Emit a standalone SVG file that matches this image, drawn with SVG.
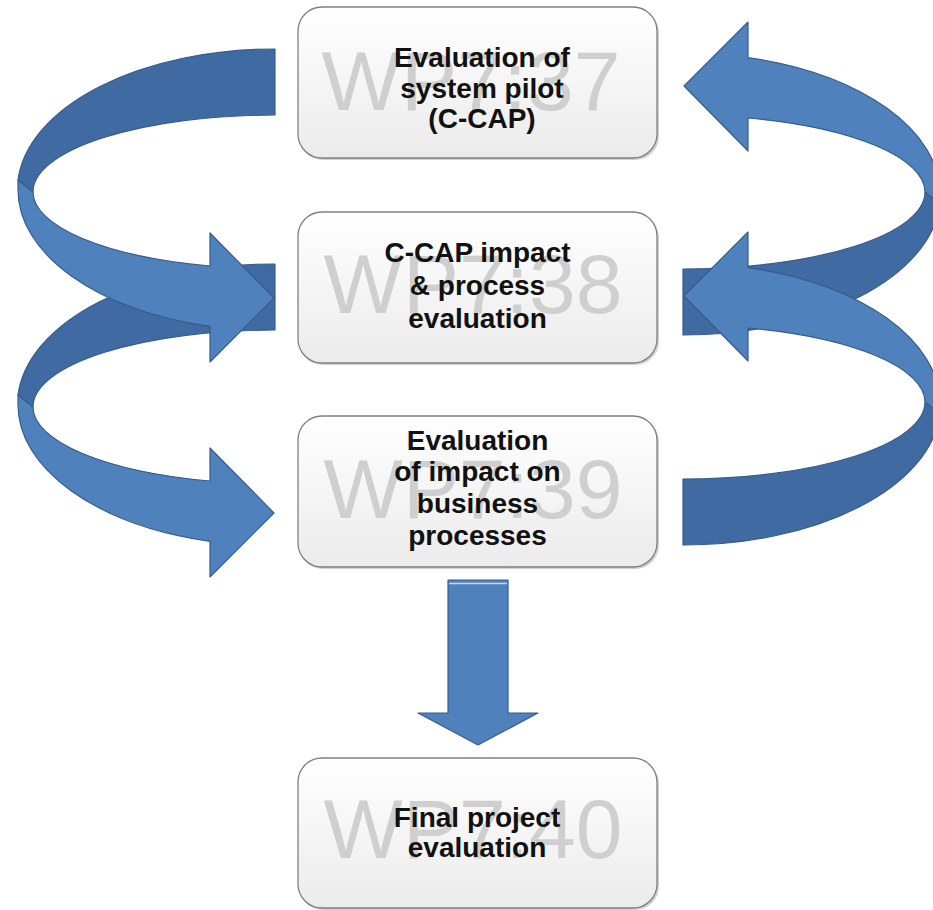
<svg xmlns="http://www.w3.org/2000/svg" width="933" height="910" viewBox="0 0 933 910">
<defs>
<style>
.box{fill:url(#bg);stroke:#808080;stroke-width:1.3}
.shadow{fill:#9a9a9a;opacity:0.45}
.wm{font-family:"Liberation Sans",Arial,sans-serif;font-size:84px;fill:#cfcfcf;text-anchor:middle}
.lbl{font-family:"Liberation Sans",Arial,sans-serif;font-size:28px;font-weight:bold;fill:#111;text-anchor:middle}
.back{fill:#3f6aa2;stroke:#375d8c;stroke-width:1.2;stroke-linejoin:round}
.front{fill:#4f81bd;stroke:#385d8a;stroke-width:1.2;stroke-linejoin:round}
</style>
<linearGradient id="bg" x1="0" y1="0" x2="0" y2="1">
<stop offset="0" stop-color="#ffffff"/>
<stop offset="1" stop-color="#ebebeb"/>
</linearGradient>
<g id="curve">
<path class="back" d="M275,49 A257,141 0 0 0 18,180 L33,192 A242,77 0 0 1 275,115 Z"/>
<path class="front" d="M18,180 L18,190 A257,141 0 0 0 210,326.4 L210,362 L274,298 L210,233 L210,266 A242,77 0 0 1 33,192 Z"/>
</g>
</defs>

<g id="connectors">
<use href="#curve" transform="translate(0,215)"/>
<use href="#curve"/>
<use href="#curve" transform="rotate(180 479 192)"/>
<use href="#curve" transform="translate(0,210) rotate(180 479 192)"/>
<g id="down-arrow">
<polygon class="front" points="448,580 508,580 508,713 538,713 478,745 418,713 448,713"/>
<line x1="449" y1="583.5" x2="507" y2="583.5" stroke="#c9d7ea" stroke-width="1.5"/>
</g>
</g>

<g id="node-wp737">
<rect class="shadow" x="299" y="9" width="360" height="151" rx="24"/>
<rect class="box" x="298" y="7" width="359" height="151" rx="24"/>
<text class="wm" x="471" y="110">WP7:37</text>
<text class="lbl" x="482" y="67">Evaluation of</text>
<text class="lbl" x="482" y="97.5">system pilot</text>
<text class="lbl" x="482" y="128">(C-CAP)</text>
</g>

<g id="node-wp738">
<rect class="shadow" x="299" y="214" width="360" height="151" rx="24"/>
<rect class="box" x="298" y="212" width="359" height="151" rx="24"/>
<text class="wm" x="473" y="313">WP7:38</text>
<text class="lbl" x="477.5" y="262">C-CAP impact</text>
<text class="lbl" x="477.5" y="295">&amp; process</text>
<text class="lbl" x="477.5" y="328">evaluation</text>
</g>

<g id="node-wp739">
<rect class="shadow" x="299" y="418" width="360" height="151" rx="24"/>
<rect class="box" x="298" y="416" width="359" height="151" rx="24"/>
<text class="wm" x="473" y="518">WP7:39</text>
<text class="lbl" x="477.5" y="450">Evaluation</text>
<text class="lbl" x="477.5" y="481">of impact on</text>
<text class="lbl" x="477.5" y="513">business</text>
<text class="lbl" x="477.5" y="545">processes</text>
</g>

<g id="node-wp740">
<rect class="shadow" x="299" y="760" width="360" height="150" rx="24"/>
<rect class="box" x="298" y="758" width="359" height="150" rx="24"/>
<text class="wm" x="473" y="858">WP7:40</text>
<text class="lbl" x="477" y="827">Final project</text>
<text class="lbl" x="477" y="857">evaluation</text>
</g>
</svg>
